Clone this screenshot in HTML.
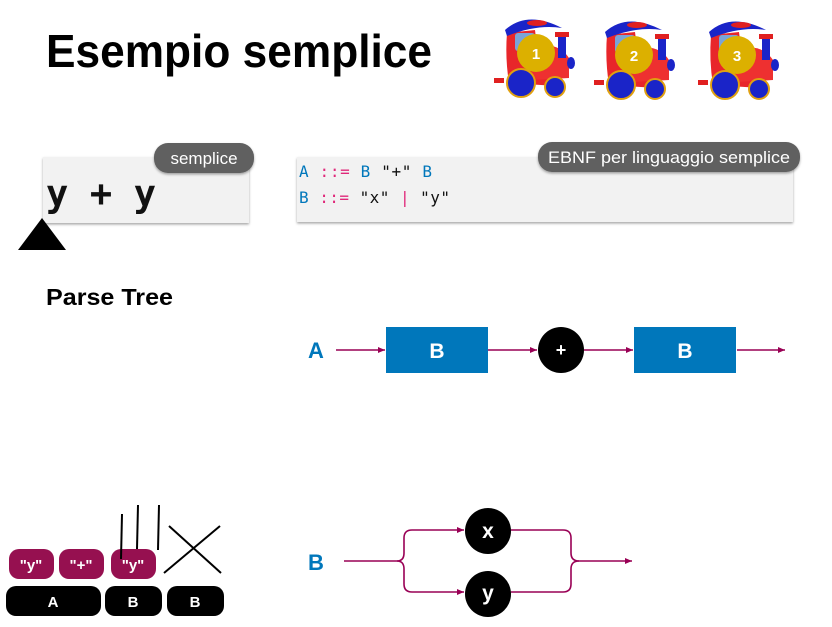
<!DOCTYPE html>
<html><head><meta charset="utf-8"><style>
html,body{margin:0;padding:0;background:#fff;}
svg{display:block;}
text{font-family:"Liberation Sans","DejaVu Sans",sans-serif;}
.mono{font-family:"DejaVu Sans Mono","Liberation Mono",monospace;}
</style></head><body>
<svg width="832" height="627" viewBox="0 0 832 627" xmlns="http://www.w3.org/2000/svg">
<defs>
<marker id="ar" markerWidth="8" markerHeight="8" refX="7" refY="3" orient="auto" markerUnits="userSpaceOnUse"><path d="M0,0 L7,3 L0,6 z" fill="#990055"/></marker>
<filter id="sh" x="-5%" y="-10%" width="110%" height="130%"><feDropShadow dx="0" dy="1.5" stdDeviation="1.2" flood-color="#000" flood-opacity="0.35"/></filter>
<g id="train">
<rect x="-3" y="70" width="10" height="5" fill="#e02020"/>
<path d="M10,25 Q8,50 12,75 L60,78 L60,40 L40,38 L38,22 Z" fill="#e8262a"/>
<path d="M8,22 Q30,2 65,20 Q40,16 10,28 Z" fill="#1a24c8"/>
<ellipse cx="40" cy="15" rx="10" ry="3" fill="#e02020"/>
<rect x="18" y="25" width="20" height="18" rx="3" fill="#7aa4d8"/>
<path d="M35,40 Q60,32 72,50 L72,70 L35,72 Z" fill="#ee3030"/>
<rect x="61" y="28" width="8" height="22" fill="#1a24c8"/>
<rect x="58" y="24" width="14" height="5" fill="#e02020"/>
<ellipse cx="74" cy="55" rx="4" ry="6" fill="#1a24c8"/>
<circle cx="24" cy="75" r="14" fill="#1a24c8" stroke="#e0a010" stroke-width="2"/>
<circle cx="58" cy="79" r="10" fill="#1a24c8" stroke="#e0a010" stroke-width="2"/>
</g>
</defs>

<text x="46" y="67" font-size="46" font-weight="bold" fill="#000" textLength="386" lengthAdjust="spacingAndGlyphs">Esempio semplice</text>

<use href="#train" x="497" y="8"/>
<use href="#train" x="597" y="10"/>
<use href="#train" x="701" y="10"/>
<circle cx="536" cy="53" r="19" fill="#dcb000"/><text x="536" y="59" font-size="15" font-weight="bold" fill="#fff" text-anchor="middle">1</text>
<circle cx="634" cy="55" r="19" fill="#dcb000"/><text x="634" y="61" font-size="15" font-weight="bold" fill="#fff" text-anchor="middle">2</text>
<circle cx="737" cy="55" r="19" fill="#dcb000"/><text x="737" y="61" font-size="15" font-weight="bold" fill="#fff" text-anchor="middle">3</text>

<rect x="43" y="157" width="206" height="66" fill="#f2f2f2" filter="url(#sh)"/>
<text x="46" y="206" class="mono" font-size="37" fill="#111" font-weight="bold" textLength="110">y + y</text>
<rect x="154" y="143" width="100" height="30" rx="14" fill="#606060" filter="url(#sh)"/>
<text x="204" y="164" font-size="17" fill="#fff" text-anchor="middle">semplice</text>
<path d="M18,250 L66,250 L42,218 Z" fill="#000"/>

<rect x="297" y="157" width="496" height="65" fill="#f2f2f2" filter="url(#sh)"/>
<text x="299" y="177" class="mono" font-size="16" textLength="133"><tspan fill="#0077bb">A</tspan><tspan fill="#e0287a"> ::= </tspan><tspan fill="#0077bb">B</tspan><tspan fill="#111"> "+" </tspan><tspan fill="#0077bb">B</tspan></text>
<text x="299" y="203" class="mono" font-size="16" textLength="151"><tspan fill="#0077bb">B</tspan><tspan fill="#e0287a"> ::= </tspan><tspan fill="#111">"x" </tspan><tspan fill="#e0287a">|</tspan><tspan fill="#111"> "y"</tspan></text>
<rect x="538" y="142" width="262" height="30" rx="14" fill="#606060" filter="url(#sh)"/>
<text x="669" y="163" font-size="17" fill="#fff" text-anchor="middle" textLength="242" lengthAdjust="spacingAndGlyphs">EBNF per linguaggio semplice</text>

<text x="46" y="305" font-size="23" font-weight="bold" fill="#000" textLength="127" lengthAdjust="spacingAndGlyphs">Parse Tree</text>

<text x="316" y="358" font-size="22" font-weight="bold" fill="#0077bb" text-anchor="middle">A</text>
<g stroke="#990055" stroke-width="1.6" fill="none">
<line x1="336" y1="350" x2="385" y2="350" marker-end="url(#ar)"/>
<line x1="488" y1="350" x2="537" y2="350" marker-end="url(#ar)"/>
<line x1="584" y1="350" x2="633" y2="350" marker-end="url(#ar)"/>
<line x1="737" y1="350" x2="785" y2="350" marker-end="url(#ar)"/>
</g>
<rect x="386" y="327" width="102" height="46" fill="#0077bb"/>
<text x="437" y="358" font-size="21" font-weight="bold" fill="#fff" text-anchor="middle">B</text>
<circle cx="561" cy="350" r="23" fill="#000"/>
<text x="561" y="356" font-size="18" font-weight="bold" fill="#fff" text-anchor="middle">+</text>
<rect x="634" y="327" width="102" height="46" fill="#0077bb"/>
<text x="685" y="358" font-size="21" font-weight="bold" fill="#fff" text-anchor="middle">B</text>

<text x="316" y="570" font-size="22" font-weight="bold" fill="#0077bb" text-anchor="middle">B</text>
<g stroke="#990055" stroke-width="1.6" fill="none">
<path d="M344,561 L397,561 Q404,561 404,553 L404,538 Q404,530 412,530 L464,530" marker-end="url(#ar)"/>
<path d="M397,561 Q404,561 404,569 L404,584 Q404,592 412,592 L464,592" marker-end="url(#ar)"/>
<path d="M511,530 L563,530 Q571,530 571,538 L571,553 Q571,561 579,561 L632,561" marker-end="url(#ar)"/>
<path d="M511,592 L563,592 Q571,592 571,584 L571,569 Q571,561 579,561"/>
</g>
<circle cx="488" cy="531" r="23" fill="#000"/>
<text x="488" y="538" font-size="21" font-weight="bold" fill="#fff" text-anchor="middle">x</text>
<circle cx="488" cy="594" r="23" fill="#000"/>
<text x="488" y="600" font-size="21" font-weight="bold" fill="#fff" text-anchor="middle">y</text>

<rect x="9" y="549" width="45" height="30" rx="10" fill="#961050"/>
<text x="31" y="570" font-size="15" font-weight="bold" fill="#fff" text-anchor="middle">"y"</text>
<rect x="59" y="549" width="45" height="30" rx="10" fill="#961050"/>
<text x="81" y="570" font-size="15" font-weight="bold" fill="#fff" text-anchor="middle">"+"</text>
<rect x="111" y="549" width="45" height="30" rx="10" fill="#961050"/>
<text x="133" y="570" font-size="15" font-weight="bold" fill="#fff" text-anchor="middle">"y"</text>
<rect x="6" y="586" width="95" height="30" rx="10" fill="#000"/>
<text x="53" y="607" font-size="15" font-weight="bold" fill="#fff" text-anchor="middle">A</text>
<rect x="105" y="586" width="57" height="30" rx="10" fill="#000"/>
<text x="133" y="607" font-size="15" font-weight="bold" fill="#fff" text-anchor="middle">B</text>
<rect x="167" y="586" width="57" height="30" rx="10" fill="#000"/>
<text x="195" y="607" font-size="15" font-weight="bold" fill="#fff" text-anchor="middle">B</text>
<g stroke="#000" stroke-width="2">
<line x1="122" y1="514" x2="121" y2="559"/>
<line x1="138" y1="505" x2="137" y2="549"/>
<line x1="159" y1="505" x2="158" y2="550"/>
<line x1="169" y1="526" x2="221" y2="573"/>
<line x1="220" y1="526" x2="164" y2="573"/>
</g>
</svg>
</body></html>
